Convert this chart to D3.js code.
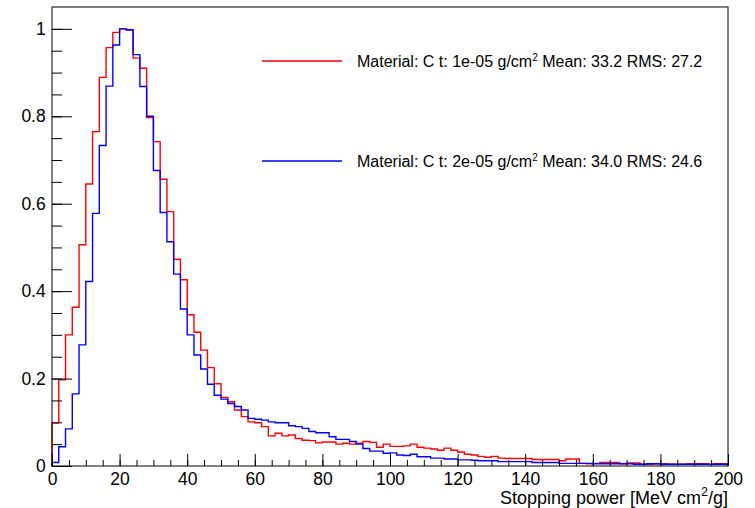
<!DOCTYPE html>
<html>
<head>
<meta charset="utf-8">
<script src="https://cdn.jsdelivr.net/npm/d3@7"></script>
<style>
  html, body { margin: 0; padding: 0; background: #fff; }
  svg { display: block; }
  text { font-family: "Liberation Sans", Arial, Helvetica, sans-serif; fill: #000; }
</style>
</head>
<body>
<svg id="chart" width="755" height="508"></svg>
<script>
// ---- data ----
const binStart = 0;
const binWidth = 2;
const redValues = [
  0.098, 0.197, 0.300, 0.363, 0.506, 0.645, 0.765, 0.889, 0.957, 0.992,
  1.000, 0.997, 0.933, 0.910, 0.797, 0.742, 0.656, 0.582, 0.473, 0.426,
  0.346, 0.306, 0.265, 0.225, 0.188, 0.157, 0.147, 0.128, 0.113, 0.101,
  0.099, 0.090, 0.069, 0.075, 0.069, 0.071, 0.063, 0.059, 0.058, 0.053,
  0.055, 0.055, 0.050, 0.052, 0.050, 0.052, 0.056, 0.054, 0.043, 0.050,
  0.045, 0.045, 0.046, 0.050, 0.043, 0.041, 0.039, 0.036, 0.041, 0.036,
  0.032, 0.027, 0.025, 0.022, 0.020, 0.022, 0.018, 0.017, 0.017, 0.017,
  0.017, 0.015, 0.015, 0.015, 0.015, 0.012, 0.016, 0.016, 0.006, 0.005,
  0.006, 0.008, 0.008, 0.008, 0.005, 0.007, 0.007, 0.004, 0.004, 0.005,
  0.005, 0.004, 0.004, 0.004, 0.005, 0.005, 0.005, 0.004, 0.005, 0.005
];
const blueValues = [
  0.008, 0.044, 0.085, 0.165, 0.277, 0.422, 0.578, 0.733, 0.869, 0.963,
  1.000, 0.998, 0.941, 0.868, 0.800, 0.676, 0.580, 0.513, 0.439, 0.359,
  0.300, 0.254, 0.222, 0.187, 0.162, 0.153, 0.143, 0.136, 0.128, 0.109,
  0.107, 0.105, 0.101, 0.099, 0.099, 0.092, 0.090, 0.086, 0.079, 0.076,
  0.076, 0.067, 0.061, 0.061, 0.056, 0.050, 0.040, 0.034, 0.034, 0.029,
  0.030, 0.025, 0.024, 0.027, 0.021, 0.021, 0.018, 0.018, 0.016, 0.016,
  0.014, 0.014, 0.013, 0.012, 0.012, 0.012, 0.010, 0.010, 0.010, 0.010,
  0.010, 0.008, 0.008, 0.008, 0.008, 0.006, 0.006, 0.006, 0.006, 0.006,
  0.005, 0.005, 0.005, 0.005, 0.005, 0.005, 0.004, 0.004, 0.005, 0.005,
  0.004, 0.004, 0.004, 0.004, 0.004, 0.004, 0.004, 0.004, 0.004, 0.004
];
const seriesNames = [
  {pre: "Material: C t: 1e-05 g/cm", post: " Mean: 33.2 RMS: 27.2"},
  {pre: "Material: C t: 2e-05 g/cm", post: " Mean: 34.0 RMS: 24.6"}
];
const seriesColors = ["#ff0000", "#0000ff"];
const xMajorTicks = [0, 20, 40, 60, 80, 100, 120, 140, 160, 180, 200];
const xMinorTicks = d3.range(0, 201, 5);
const yMajorTicks = [0, 0.2, 0.4, 0.6, 0.8, 1];
const yMinorTicks = d3.range(0, 1.0001, 0.05);
const xTitle = "Stopping power [MeV cm";
const xTitleSup = "2";
const xTitleEnd = "/g]";

// ---- layout ----
const svg = d3.select("#chart");
const L = 52, R = 728, T = 7, B = 466;
const x = d3.scaleLinear().domain([0, 200]).range([L, R]);
const y = d3.scaleLinear().domain([0, 1.05]).range([B, T]);

// histogram step paths
function stepPath(vals) {
  const pts = [[x(binStart), y(0)]];
  vals.forEach((v, i) => {
    const x0 = binStart + i * binWidth, x1 = x0 + binWidth;
    pts.push([x(x0), y(v)]);
    pts.push([x(x1), y(v)]);
  });
  pts.push([x(binStart + vals.length * binWidth), y(0)]);
  return d3.line()(pts);
}
[redValues, blueValues].forEach((vals, i) => {
  svg.append("path")
    .attr("d", stepPath(vals))
    .attr("fill", "none")
    .attr("stroke", seriesColors[i])
    .attr("stroke-width", 1.4);
});

// axes
const fontSize = "17.5px";
const xMinor = svg.append("g").attr("transform", `translate(0,${B})`)
  .call(d3.axisBottom(x).tickValues(xMinorTicks).tickSize(-6).tickSizeOuter(0).tickFormat(""));
const xMajor = svg.append("g").attr("transform", `translate(0,${B})`)
  .call(d3.axisBottom(x).tickValues(xMajorTicks).tickSize(-12).tickSizeOuter(0).tickPadding(6.5).tickFormat(d3.format("d")));
const yMinor = svg.append("g").attr("transform", `translate(${L},0)`)
  .call(d3.axisLeft(y).tickValues(yMinorTicks).tickSize(-10).tickSizeOuter(0).tickFormat(""));
const yMajor = svg.append("g").attr("transform", `translate(${L},0)`)
  .call(d3.axisLeft(y).tickValues(yMajorTicks).tickSize(-20).tickSizeOuter(0).tickPadding(6.3).tickFormat(d => d3.format("~g")(d)));
[xMinor, xMajor, yMinor, yMajor].forEach(g => {
  g.selectAll("path.domain").remove();
  g.selectAll("line").attr("stroke", "#000").attr("stroke-width", 1);
  g.selectAll("text").style("font-size", fontSize).attr("fill", "#000")
    .style("font-family", '"Liberation Sans", Arial, Helvetica, sans-serif');
});

// frame
svg.append("rect").attr("x", L).attr("y", T).attr("width", R - L).attr("height", B - T)
  .attr("fill", "none").attr("stroke", "#000").attr("stroke-width", 1);

// x title
const xt = svg.append("text").attr("x", R).attr("y", 503.5).attr("text-anchor", "end")
  .style("font-size", "18px");
xt.append("tspan").text(xTitle);
xt.append("tspan").attr("dy", -8).style("font-size", "12.5px").text(xTitleSup);
xt.append("tspan").attr("dy", 8).text(xTitleEnd);

// legend
const legY = [61, 161];
seriesNames.forEach((s, i) => {
  svg.append("line").attr("x1", 262).attr("x2", 342).attr("y1", legY[i]).attr("y2", legY[i])
    .attr("stroke", seriesColors[i]).attr("stroke-width", 1.4);
  const t = svg.append("text").attr("x", 357).attr("y", legY[i] + 6.3).style("font-size", "16px");
  t.append("tspan").text(s.pre);
  t.append("tspan").attr("dy", -6.5).style("font-size", "10px").text("2");
  t.append("tspan").attr("dy", 6.5).text(s.post);
});
</script>
</body>
</html>
